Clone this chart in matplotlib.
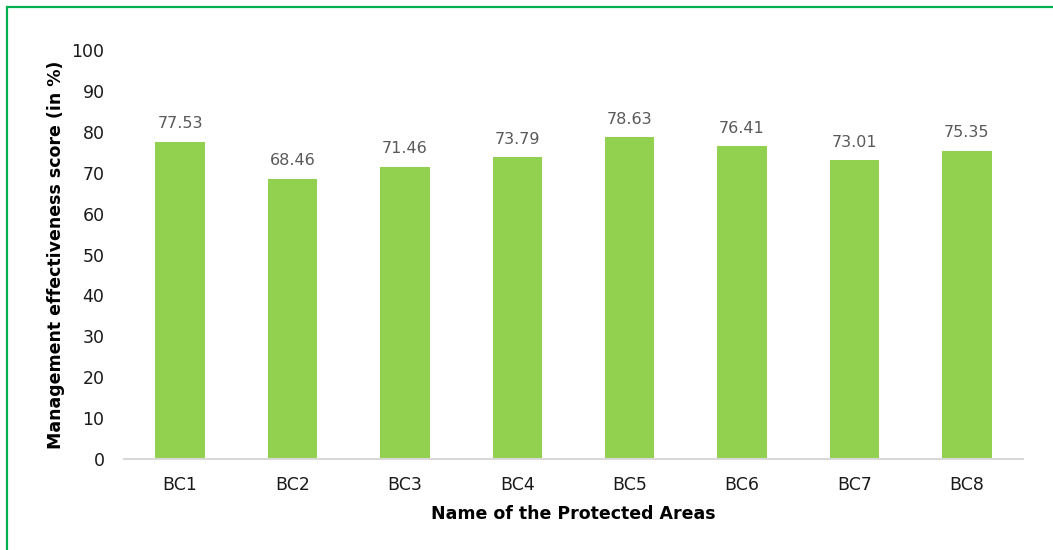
import matplotlib
matplotlib.use("Agg")
import matplotlib.pyplot as plt
from matplotlib.patches import Rectangle

categories = ["BC1", "BC2", "BC3", "BC4", "BC5", "BC6", "BC7", "BC8"]
scores = [77.53, 68.46, 71.46, 73.79, 78.63, 76.41, 73.01, 75.35]
yticks = [0, 10, 20, 30, 40, 50, 60, 70, 80, 90, 100]

plt.rcParams['font.family'] = ['DejaVu Sans']

W, H = 1053, 550
fig = plt.figure(figsize=(W / 100, H / 100), dpi=100)
ax = fig.add_axes([124 / W, 91 / H, (1023 - 124) / W, (459 - 50) / H])

x = list(range(len(categories)))
ax.bar(x, scores, width=0.44, color="#92D050", zorder=2)
for xi, v in zip(x, scores):
    ax.text(xi, v + 2.6, f"{v:.2f}", ha="center", va="bottom", fontsize=11.5, color="#595959")

ax.set_xlim(-0.5, len(categories) - 0.5)
ax.set_ylim(0, 100)
ax.set_yticks(yticks)
ax.set_xticks(x)
ax.set_xticklabels(categories)
ax.tick_params(axis="both", length=0, labelsize=12.5, colors="#1a1a1a")
ax.tick_params(axis="x", pad=12)
ax.tick_params(axis="y", pad=14)
for s in ["top", "right", "left"]:
    ax.spines[s].set_visible(False)
ax.spines["bottom"].set_color("#D9D9D9")
ax.spines["bottom"].set_linewidth(1.5)

ax.set_ylabel("Management effectiveness score (in %)", fontsize=12.5, fontweight="bold", color="black")
ax.set_xlabel("Name of the Protected Areas", fontsize=12.5, fontweight="bold", color="black", labelpad=8)
ax.yaxis.set_label_coords(-0.066, 0.5)

border = Rectangle((7 / W, -0.2), 1.2, (H - 7) / H + 0.2, transform=fig.transFigure,
                   fill=False, edgecolor="#00B050", linewidth=1.6, clip_on=False)
fig.patches.append(border)

fig.savefig("out.png", dpi=100)
